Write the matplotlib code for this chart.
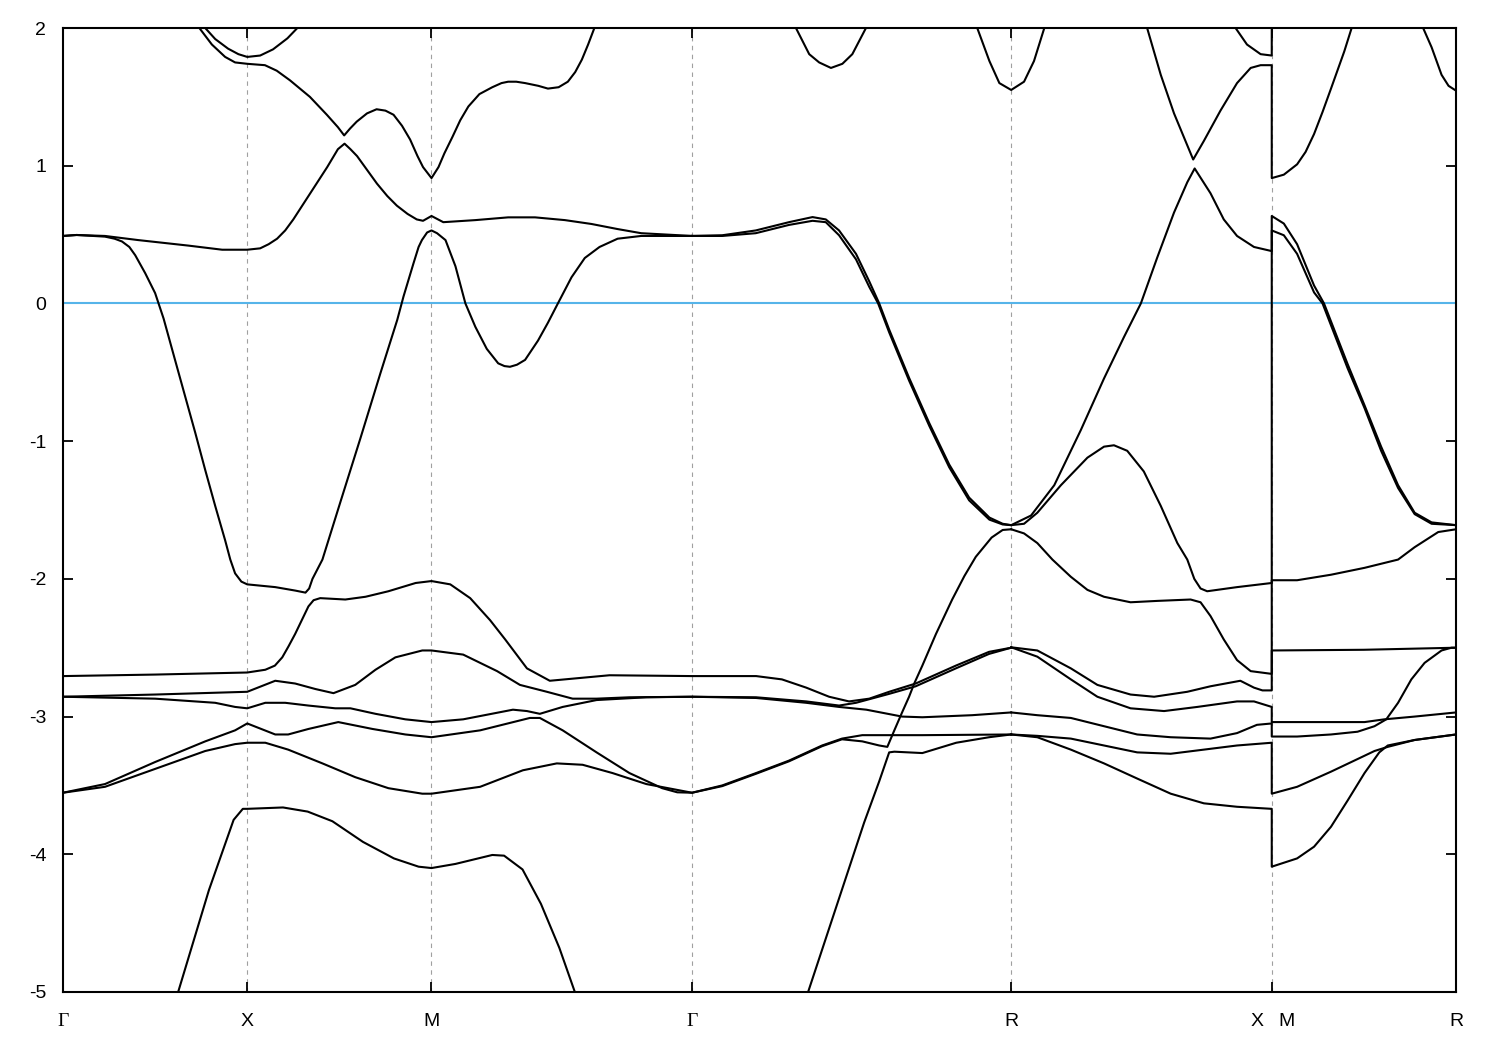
import matplotlib
matplotlib.use("Agg")
import matplotlib.pyplot as plt
from matplotlib import font_manager

# ---------------- data ----------------
hs_k = [0.0, 0.5, 1.0, 1.7071, 2.5731, 3.2802, 3.7802]
hs_labels = ["Γ", "X", "M", "Γ", "R", "", "R"]
e_ticks = [-5, -4, -3, -2, -1, 0, 1, 2]

upper_b_k = [0.370, 0.404, 0.440, 0.467, 0.5, 0.548, 0.580, 0.616, 0.670, 0.716, 0.746, 0.763, 0.779, 0.797,
             0.825, 0.851, 0.875, 0.897, 0.920, 0.942, 0.962, 0.977, 1.0, 1.019, 1.035, 1.057, 1.078, 1.100,
             1.130, 1.165, 1.190, 1.208, 1.230, 1.254, 1.290, 1.316, 1.345, 1.370, 1.390, 1.408, 1.425, 1.442]
upper_b_e = [2.0, 1.88, 1.79, 1.75, 1.74, 1.73, 1.69, 1.62, 1.50, 1.37, 1.28, 1.22, 1.27, 1.32,
             1.38, 1.41, 1.40, 1.37, 1.29, 1.19, 1.07, 0.99, 0.91, 0.99, 1.09, 1.21, 1.33, 1.43,
             1.52, 1.57, 1.60, 1.61, 1.61, 1.60, 1.58, 1.56, 1.57, 1.61, 1.68, 1.77, 1.88, 2.0]

upper_a_k = [0.386, 0.413, 0.448, 0.476, 0.5, 0.535, 0.570, 0.609, 0.636]
upper_a_e = [2.0, 1.92, 1.85, 1.81, 1.79, 1.80, 1.845, 1.925, 2.0]

band_p_k = [0.0, 0.037, 0.114, 0.140, 0.160, 0.180, 0.196, 0.223, 0.250, 0.273, 0.304, 0.332,
            0.359, 0.386, 0.413, 0.440, 0.454, 0.467, 0.484, 0.5, 0.576, 0.630, 0.658, 0.668, 0.677,
            0.704, 0.753, 0.807, 0.861, 0.907, 0.924, 0.951, 0.965, 0.974, 0.988, 1.0, 1.015, 1.038,
            1.065, 1.092, 1.119, 1.150, 1.181, 1.198, 1.213, 1.232, 1.254, 1.289, 1.316, 1.343,
            1.380, 1.416, 1.456, 1.505, 1.569, 1.7071]
band_p_e = [0.49, 0.497, 0.485, 0.47, 0.45, 0.41, 0.35, 0.22, 0.075, -0.11, -0.41, -0.68,
            -0.94, -1.21, -1.47, -1.72, -1.86, -1.96, -2.02, -2.04, -2.06, -2.085, -2.10, -2.07, -2.00,
            -1.86, -1.44, -0.98, -0.51, -0.12, 0.05, 0.29, 0.41, 0.46, 0.515, 0.53, 0.51, 0.46,
            0.27, 0.0, -0.17, -0.33, -0.435, -0.455, -0.46, -0.445, -0.41, -0.27, -0.14, 0.0,
            0.19, 0.33, 0.41, 0.47, 0.49, 0.49]

band_flat_k = [0.0, 0.037, 0.114, 0.204, 0.340, 0.432, 0.5, 0.535, 0.558, 0.581, 0.603, 0.625,
               0.671, 0.717, 0.746, 0.764, 0.780, 0.798, 0.825, 0.852, 0.880, 0.906, 0.935, 0.960, 0.977,
               1.0, 1.032, 1.119, 1.208, 1.281, 1.362, 1.434, 1.505, 1.569, 1.7071]
band_flat_e = [0.49, 0.497, 0.49, 0.46, 0.42, 0.39, 0.39, 0.40, 0.43, 0.47, 0.53, 0.61,
               0.80, 0.99, 1.12, 1.16, 1.12, 1.07, 0.97, 0.87, 0.78, 0.71, 0.65, 0.61, 0.60,
               0.635, 0.59, 0.605, 0.625, 0.625, 0.605, 0.577, 0.54, 0.51, 0.49]

gr1_k = [1.7071, 1.789, 1.880, 1.970, 2.034, 2.070, 2.106, 2.152, 2.188, 2.215,
         2.242, 2.296, 2.351, 2.405, 2.459, 2.514, 2.550, 2.5731, 2.627, 2.690,
         2.762, 2.825, 2.879, 2.925, 2.969, 3.015, 3.051, 3.071, 3.114, 3.150,
         3.186, 3.232, 3.2802, 3.2802, 3.313, 3.349, 3.395, 3.422, 3.486, 3.532,
         3.577, 3.623, 3.668, 3.714, 3.7802]
gr1_e = [0.49, 0.495, 0.53, 0.59, 0.627, 0.61, 0.53, 0.36, 0.16, 0.0,
         -0.19, -0.54, -0.87, -1.17, -1.41, -1.555, -1.60, -1.61, -1.54, -1.32,
         -0.92, -0.545, -0.245, 0.0, 0.33, 0.66, 0.88, 0.98, 0.80, 0.61,
         0.49, 0.41, 0.38, 0.635, 0.58, 0.43, 0.13, 0.0, -0.44, -0.74,
         -1.04, -1.32, -1.52, -1.59, -1.61]

gr2_k = [1.7071, 1.789, 1.880, 1.970, 2.034, 2.070, 2.106, 2.152, 2.188, 2.212,
         2.242, 2.296, 2.351, 2.405, 2.459, 2.514, 2.550, 2.5731, 2.608, 2.644,
         2.708, 2.780, 2.825, 2.852, 2.888, 2.933, 2.979, 3.024, 3.051, 3.070,
         3.087, 3.105, 3.186, 3.2802, 3.2802, 3.313, 3.349, 3.395, 3.418, 3.486,
         3.532, 3.577, 3.623, 3.668, 3.714, 3.7802]
gr2_e = [0.49, 0.49, 0.51, 0.57, 0.60, 0.59, 0.495, 0.32, 0.12, 0.0,
         -0.21, -0.56, -0.89, -1.19, -1.43, -1.57, -1.605, -1.61, -1.60, -1.52,
         -1.32, -1.12, -1.04, -1.03, -1.07, -1.22, -1.47, -1.74, -1.86, -2.00,
         -2.07, -2.09, -2.06, -2.03, 0.53, 0.495, 0.36, 0.08, 0.0, -0.47,
         -0.76, -1.07, -1.34, -1.53, -1.60, -1.61]

top_gr_k = [1.989, 2.025, 2.052, 2.084, 2.115, 2.142, 2.179]
top_gr_e = [2.0, 1.81, 1.75, 1.71, 1.74, 1.81, 2.0]

top_r_k = [2.481, 2.514, 2.541, 2.5731, 2.608, 2.635, 2.663]
top_r_e = [2.0, 1.76, 1.60, 1.55, 1.61, 1.76, 2.0]

rx_v_k = [2.942, 2.979, 3.015, 3.046, 3.067, 3.096, 3.141, 3.186, 3.223, 3.250, 3.2802,
          3.2802, 3.313, 3.349, 3.372, 3.395, 3.418, 3.441, 3.477, 3.497]
rx_v_e = [2.0, 1.66, 1.38, 1.18, 1.045, 1.18, 1.40, 1.60, 1.71, 1.73, 1.73,
          0.91, 0.935, 1.01, 1.10, 1.23, 1.39, 1.56, 1.83, 2.0]

rx_top_k = [3.182, 3.213, 3.250, 3.2802, 3.2802]
rx_top_e = [2.0, 1.88, 1.81, 1.80, 2.0]

mr_top_k = [3.691, 3.714, 3.741, 3.760, 3.7802]
mr_top_e = [2.0, 1.86, 1.66, 1.58, 1.545]

rx_n_k = [2.5731, 2.608, 2.644, 2.685, 2.735, 2.780, 2.825, 2.897, 2.970, 3.060,
          3.087, 3.114, 3.150, 3.186, 3.223, 3.2802, 3.2802, 3.349, 3.441, 3.532,
          3.623, 3.668, 3.732, 3.7802]
rx_n_e = [-1.64, -1.67, -1.74, -1.86, -1.985, -2.08, -2.13, -2.17, -2.16, -2.15,
          -2.17, -2.27, -2.44, -2.59, -2.67, -2.69, -2.01, -2.01, -1.97, -1.92,
          -1.86, -1.77, -1.66, -1.64]

rx_a_k = [2.5731, 2.644, 2.735, 2.807, 2.897, 2.961, 3.051, 3.114, 3.195, 3.232, 3.255, 3.2802,
          3.2802, 3.530, 3.7802]
rx_a_e = [-2.497, -2.52, -2.65, -2.77, -2.84, -2.856, -2.82, -2.78, -2.74, -2.79, -2.81, -2.81,
          -2.52, -2.515, -2.50]

rx_b_k = [2.5731, 2.644, 2.735, 2.807, 2.897, 2.988, 3.078, 3.186, 3.232, 3.2802,
          3.2802, 3.40, 3.532, 3.586, 3.668, 3.7802]
rx_b_e = [-2.497, -2.565, -2.73, -2.856, -2.94, -2.96, -2.93, -2.89, -2.89, -2.93,
          -3.04, -3.04, -3.04, -3.02, -3.00, -2.97]

rx_c_k = [2.5731, 2.644, 2.735, 2.825, 2.915, 3.006, 3.114, 3.186, 3.240, 3.2802,
          3.2802, 3.349, 3.441, 3.513, 3.559, 3.591, 3.623, 3.659, 3.695, 3.741, 3.768, 3.7802]
rx_c_e = [-2.97, -2.99, -3.01, -3.07, -3.13, -3.15, -3.16, -3.12, -3.06, -3.05,
          -3.145, -3.145, -3.13, -3.11, -3.07, -3.02, -2.90, -2.73, -2.61, -2.52, -2.50, -2.50]

rx_d_k = [2.5731, 2.644, 2.735, 2.825, 2.915, 3.006, 3.096, 3.186, 3.2802,
          3.2802, 3.349, 3.441, 3.504, 3.559, 3.595, 3.668, 3.7802]
rx_d_e = [-3.13, -3.14, -3.16, -3.21, -3.26, -3.27, -3.24, -3.21, -3.19,
          -3.56, -3.51, -3.40, -3.32, -3.25, -3.22, -3.17, -3.13]

rx_e_k = [2.5731, 2.644, 2.735, 2.825, 2.915, 3.006, 3.096, 3.186, 3.2802,
          3.2802, 3.349, 3.395, 3.441, 3.486, 3.532, 3.572, 3.595, 3.668, 3.7802]
rx_e_e = [-3.13, -3.15, -3.24, -3.34, -3.45, -3.56, -3.63, -3.655, -3.67,
          -4.09, -4.03, -3.945, -3.80, -3.61, -3.41, -3.26, -3.21, -3.17, -3.13]

l1_k = [0.0, 0.25, 0.5, 0.549, 0.575, 0.595, 0.612, 0.630, 0.648, 0.666, 0.680, 0.698, 0.766, 0.821,
        0.883, 0.957, 1.0, 1.051, 1.105, 1.159, 1.200, 1.259, 1.321, 1.483,
        1.7071, 1.881, 1.951, 2.017, 2.079, 2.133, 2.188, 2.242, 2.314, 2.423,
        2.513, 2.5731]
l1_e = [-2.706, -2.695, -2.68, -2.66, -2.63, -2.57, -2.49, -2.40, -2.30, -2.20, -2.155, -2.14, -2.15, -2.13,
        -2.09, -2.03, -2.016, -2.04, -2.14, -2.30, -2.44, -2.65, -2.74, -2.70,
        -2.706, -2.706, -2.73, -2.79, -2.856, -2.89, -2.87, -2.82, -2.76, -2.63,
        -2.53, -2.50]

l2_k = [0.0, 0.25, 0.5, 0.576, 0.630, 0.685, 0.734, 0.793, 0.848, 0.902,
        0.975, 1.0, 1.086, 1.178, 1.240, 1.313, 1.383, 1.448, 1.537, 1.7071,
        1.881, 2.017, 2.106, 2.152, 2.242, 2.314, 2.423, 2.513, 2.5731]
l2_e = [-2.856, -2.84, -2.82, -2.74, -2.76, -2.80, -2.83, -2.77, -2.66, -2.57,
        -2.52, -2.52, -2.55, -2.67, -2.77, -2.82, -2.87, -2.87, -2.86, -2.856,
        -2.86, -2.89, -2.92, -2.90, -2.835, -2.78, -2.65, -2.545, -2.50]

l3_k = [0.0, 0.250, 0.413, 0.467, 0.5, 0.549, 0.603, 0.666, 0.739, 0.780,
        0.848, 0.929, 1.0, 1.086, 1.221, 1.259, 1.294, 1.356, 1.448, 1.583,
        1.7071, 1.881, 2.017, 2.106, 2.180, 2.277, 2.332, 2.467, 2.5731]
l3_e = [-2.856, -2.87, -2.90, -2.93, -2.94, -2.90, -2.90, -2.92, -2.94, -2.94,
        -2.98, -3.02, -3.04, -3.02, -2.95, -2.96, -2.98, -2.93, -2.88, -2.86,
        -2.856, -2.865, -2.90, -2.93, -2.95, -3.0, -3.005, -2.99, -2.97]

l4a_k = [0.0, 0.114, 0.250, 0.386, 0.467, 0.5, 0.576, 0.611, 0.666, 0.747,
         0.840, 0.929, 1.0, 1.132, 1.267, 1.294, 1.356, 1.448, 1.537, 1.626,
         1.667, 1.7071, 1.789, 1.881, 1.970, 2.060, 2.114, 2.169, 2.332, 2.5731]
l4a_e = [-3.553, -3.49, -3.33, -3.18, -3.10, -3.05, -3.13, -3.13, -3.09, -3.04,
         -3.09, -3.13, -3.15, -3.10, -3.01, -3.01, -3.10, -3.26, -3.41, -3.52,
         -3.55, -3.553, -3.50, -3.41, -3.32, -3.21, -3.16, -3.135, -3.135, -3.13]

l4b_k = [0.0, 0.114, 0.250, 0.386, 0.467, 0.5, 0.549, 0.611, 0.704, 0.793,
         0.883, 0.975, 1.0, 1.132, 1.248, 1.340, 1.410, 1.491, 1.583, 1.7071,
         1.789, 1.881, 1.970, 2.060, 2.114, 2.169, 2.215, 2.237, 2.256, 2.277,
         2.296, 2.310, 2.332, 2.369, 2.413, 2.446, 2.477, 2.520, 2.550, 2.5731]
l4b_e = [-3.553, -3.51, -3.38, -3.25, -3.20, -3.19, -3.19, -3.24, -3.34, -3.44,
         -3.52, -3.56, -3.56, -3.51, -3.39, -3.34, -3.35, -3.41, -3.49, -3.553,
         -3.505, -3.415, -3.325, -3.215, -3.165, -3.18, -3.21, -3.22, -3.10, -2.97,
         -2.856, -2.76, -2.63, -2.40, -2.15, -1.98, -1.84, -1.70, -1.645, -1.64]

low_k = [0.3125, 0.396, 0.463, 0.488, 0.5, 0.597, 0.664, 0.731, 0.814, 0.898,
         0.965, 1.0, 1.065, 1.165, 1.197, 1.247, 1.297, 1.347, 1.389]
low_e = [-5.0, -4.26, -3.75, -3.67, -3.67, -3.66, -3.69, -3.76, -3.91, -4.03,
         -4.09, -4.10, -4.07, -4.005, -4.01, -4.11, -4.36, -4.68, -5.0]

s_k = [2.022, 2.174, 2.215, 2.242, 2.256, 2.332, 2.424, 2.513, 2.5731]
s_e = [-5.0, -3.77, -3.47, -3.26, -3.255, -3.265, -3.19, -3.15, -3.13]

bands = [
    (upper_b_k, upper_b_e), (upper_a_k, upper_a_e), (band_p_k, band_p_e),
    (band_flat_k, band_flat_e), (gr1_k, gr1_e), (gr2_k, gr2_e),
    (top_gr_k, top_gr_e), (top_r_k, top_r_e), (rx_v_k, rx_v_e),
    (rx_top_k, rx_top_e), (mr_top_k, mr_top_e), (rx_n_k, rx_n_e),
    (rx_a_k, rx_a_e), (rx_b_k, rx_b_e), (rx_c_k, rx_c_e), (rx_d_k, rx_d_e),
    (rx_e_k, rx_e_e), (l1_k, l1_e), (l2_k, l2_e), (l3_k, l3_e),
    (l4a_k, l4a_e), (l4b_k, l4b_e), (low_k, low_e), (s_k, s_e),
]

# ---------------- plot ----------------
names = {f.name for f in font_manager.fontManager.ttflist}
sans = "Liberation Sans Narrow" if "Liberation Sans Narrow" in names else "Liberation Sans"
plt.rcParams["font.family"] = [sans, "DejaVu Sans"]

fig = plt.figure(figsize=(15, 10.5), dpi=100)
ax = fig.add_axes([63 / 1500, 1 - 992 / 1050, (1456 - 63) / 1500, (992 - 28) / 1050])

for k in hs_k[1:-1]:
    ax.axvline(k, color="#a0a0a0", lw=0.8, ls=(0, (4, 4)), zorder=1)
ax.axhline(0, color="#56b4e9", lw=1.5, zorder=2)

for kk, ee in bands:
    ax.plot(kk, ee, color="black", lw=1.5, zorder=3, solid_joinstyle="round")

ax.set_xlim(hs_k[0], hs_k[-1])
ax.set_ylim(-5, 2)
ax.set_yticks(e_ticks)
ax.set_yticklabels([str(v) for v in e_ticks])
ax.set_xticks(hs_k)
ax.set_xticklabels(hs_labels)
for lab in ax.get_xticklabels():
    if lab.get_text() == "Γ":
        lab.set_family(["Liberation Serif", "DejaVu Serif"])

ax.tick_params(axis="both", direction="in", length=7, width=1.3, labelsize=14,
               top=True, right=True)
ax.tick_params(axis="y", pad=12)
ax.tick_params(axis="x", pad=15)
for sp in ax.spines.values():
    sp.set_linewidth(1.5)

for txt, dx in (("X", -15), ("M", 15)):
    ax.annotate(txt, xy=(hs_k[5], 0), xycoords=("data", "axes fraction"),
                xytext=(dx, -21), textcoords="offset pixels",
                ha="center", va="top", fontsize=14)

fig.savefig("out.png", dpi=100)
